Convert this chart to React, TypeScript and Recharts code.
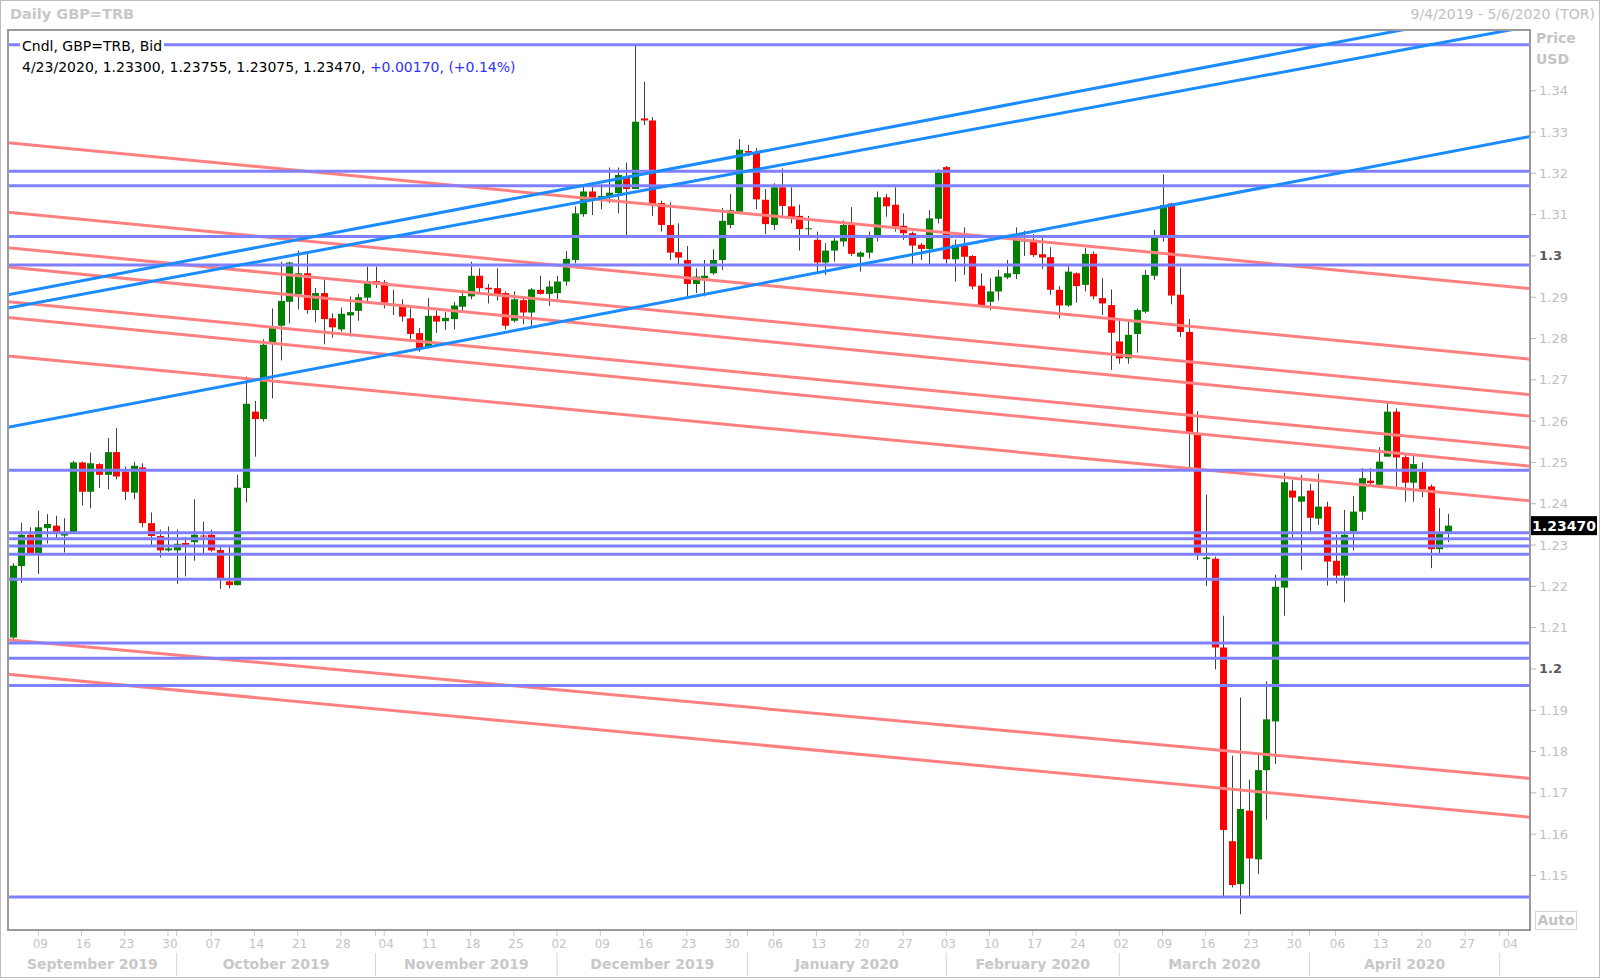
import React from 'react';
import { ComposedChart, Bar, XAxis, YAxis, ReferenceLine } from 'recharts';

const W = 1600;
const H = 978;
const FONT = '"DejaVu Sans", Verdana, sans-serif';

// trading days on the axis, 9/4/2019 .. 5/6/2020 (weekdays)
const days: Date[] = [];
for (let t = Date.UTC(2019, 8, 4); t <= Date.UTC(2020, 4, 6); t += 86400000) {
  const d = new Date(t);
  if (d.getUTCDay() % 6 !== 0) days.push(d);
}
const N = days.length;

const opens = [
  1.2076, 1.2249, 1.2325, 1.2280, 1.2341, 1.2347, 1.2323, 1.2330, 1.2500, 1.2429,
  1.2496, 1.2470, 1.2525, 1.2478, 1.2427, 1.2488, 1.2353, 1.2322, 1.2287, 1.2287,
  1.2305, 1.2307, 1.2323, 1.2325, 1.2288, 1.2212, 1.2203, 1.2438, 1.2623, 1.2605,
  1.2789, 1.2831, 1.2889, 1.2907, 1.2958, 1.2869, 1.2910, 1.2849, 1.2822, 1.2856,
  1.2867, 1.2899, 1.2939, 1.2936, 1.2880, 1.2877, 1.2849, 1.2813, 1.2782, 1.2855,
  1.2842, 1.2847, 1.2877, 1.2902, 1.2952, 1.2923, 1.2922, 1.2910, 1.2843, 1.2893,
  1.2863, 1.2918, 1.2908, 1.2910, 1.2938, 1.2990, 1.3101, 1.3156, 1.3140, 1.3144,
  1.3152, 1.3192, 1.3162, 1.3333, 1.3328, 1.3128, 1.3075, 1.3009, 1.2990, 1.2932,
  1.2946, 1.2958, 1.2990, 1.3075, 1.3107, 1.3254, 1.3250, 1.3136, 1.3075, 1.3166,
  1.3120, 1.3097, 1.3065, 1.3039, 1.2984, 1.3013, 1.3035, 1.3075, 1.2998, 1.3008,
  1.3045, 1.3142, 1.3124, 1.3073, 1.3055, 1.3027, 1.3017, 1.3090, 1.3215, 1.2992,
  1.3024, 1.3000, 1.2928, 1.2889, 1.2914, 1.2948, 1.2956, 1.3035, 1.3039, 1.3004,
  1.2997, 1.2918, 1.2880, 1.2958, 1.2930, 1.3005, 1.2898, 1.2881, 1.2793, 1.2752,
  1.2811, 1.2865, 1.2952, 1.3045, 1.3127, 1.2906, 1.2816, 1.2569, 1.2266, 1.2267,
  1.2052, 1.1583, 1.1479, 1.1657, 1.1539, 1.1755, 1.1873, 1.2197, 1.2432, 1.2405,
  1.2432, 1.2364, 1.2393, 1.2262, 1.2226, 1.2333, 1.2381, 1.2456, 1.2446, 1.2514,
  1.2623, 1.2513, 1.2451, 1.2478, 1.2442, 1.2290, 1.2330,
];
const highs = [
  1.2256, 1.2354, 1.2343, 1.2383, 1.2375, 1.2371, 1.2365, 1.2504, 1.2502, 1.2524,
  1.2498, 1.2559, 1.2583, 1.2490, 1.2502, 1.2498, 1.2379, 1.2337, 1.2345, 1.2338,
  1.2320, 1.2411, 1.2357, 1.2337, 1.2300, 1.2296, 1.2470, 1.2708, 1.2649, 1.2798,
  1.2873, 1.2986, 1.2986, 1.3013, 1.3005, 1.2922, 1.2948, 1.2861, 1.2875, 1.2902,
  1.2908, 1.2974, 1.2974, 1.2942, 1.2918, 1.2895, 1.2873, 1.2825, 1.2898, 1.2868,
  1.2865, 1.2889, 1.2918, 1.2986, 1.2970, 1.2932, 1.2970, 1.2914, 1.2914, 1.2903,
  1.2922, 1.2952, 1.2940, 1.2952, 1.3012, 1.3120, 1.3174, 1.3168, 1.3174, 1.3214,
  1.3214, 1.3226, 1.3509, 1.3422, 1.3336, 1.3134, 1.3130, 1.3079, 1.3024, 1.2970,
  1.2990, 1.3016, 1.3116, 1.3150, 1.3283, 1.3269, 1.3261, 1.3162, 1.3176, 1.3212,
  1.3166, 1.3124, 1.3097, 1.3059, 1.3031, 1.3049, 1.3086, 1.3118, 1.3011, 1.3059,
  1.3156, 1.3150, 1.3166, 1.3103, 1.3059, 1.3031, 1.3111, 1.3210, 1.3218, 1.3040,
  1.3069, 1.3002, 1.2958, 1.2946, 1.2966, 1.2990, 1.3069, 1.3061, 1.3053, 1.3048,
  1.3021, 1.2927, 1.2981, 1.2960, 1.3019, 1.3011, 1.2946, 1.2919, 1.2843, 1.2841,
  1.2873, 1.2966, 1.3063, 1.3197, 1.3129, 1.2972, 1.2847, 1.2624, 1.2422, 1.2272,
  1.2129, 1.1790, 1.1931, 1.1732, 1.1797, 1.1970, 1.2228, 1.2475, 1.2458, 1.2470,
  1.2448, 1.2473, 1.2405, 1.2325, 1.2385, 1.2419, 1.2486, 1.2486, 1.2537, 1.2643,
  1.2631, 1.2522, 1.2518, 1.2500, 1.2447, 1.2389, 1.23755,
];
const lows = [
  1.2062, 1.2208, 1.2276, 1.2230, 1.2304, 1.2316, 1.2282, 1.2328, 1.2396, 1.2389,
  1.2438, 1.2435, 1.2459, 1.2409, 1.2411, 1.2343, 1.2298, 1.2270, 1.2284, 1.2206,
  1.2224, 1.2262, 1.2278, 1.2284, 1.2194, 1.2195, 1.2202, 1.2403, 1.2514, 1.2599,
  1.2655, 1.2747, 1.2837, 1.2871, 1.2860, 1.2839, 1.2786, 1.2802, 1.2817, 1.2805,
  1.2843, 1.2889, 1.2922, 1.2873, 1.2857, 1.2841, 1.2798, 1.2768, 1.2781, 1.2814,
  1.2821, 1.2822, 1.2869, 1.2895, 1.2910, 1.2885, 1.2892, 1.2822, 1.2839, 1.2835,
  1.2831, 1.2906, 1.2879, 1.2895, 1.2928, 1.2982, 1.3095, 1.3099, 1.3113, 1.3128,
  1.3103, 1.3049, 1.3162, 1.3317, 1.3097, 1.3059, 1.2990, 1.2978, 1.2903, 1.2910,
  1.2902, 1.2954, 1.2966, 1.3067, 1.3103, 1.3242, 1.3113, 1.3053, 1.3063, 1.3097,
  1.3079, 1.3013, 1.3047, 1.2960, 1.2954, 1.2986, 1.3023, 1.3000, 1.2962, 1.2994,
  1.3035, 1.3095, 1.3059, 1.3039, 1.2978, 1.2990, 1.2978, 1.3079, 1.2982, 1.2938,
  1.2954, 1.2919, 1.2877, 1.2869, 1.2892, 1.2944, 1.2944, 1.3000, 1.2997, 1.2968,
  1.2906, 1.2849, 1.2877, 1.2887, 1.2914, 1.2895, 1.2857, 1.2724, 1.2739, 1.2739,
  1.2766, 1.2861, 1.2942, 1.3035, 1.2883, 1.2804, 1.2487, 1.2264, 1.2201, 1.1999,
  1.1450, 1.1471, 1.1406, 1.1450, 1.1504, 1.1635, 1.1770, 1.2129, 1.2318, 1.2240,
  1.2329, 1.2349, 1.2202, 1.2207, 1.2161, 1.2287, 1.2361, 1.2446, 1.2443, 1.2514,
  1.2440, 1.2405, 1.2405, 1.2416, 1.2244, 1.2278, 1.23075,
];
const closes = [
  1.2250, 1.2325, 1.2279, 1.2343, 1.2351, 1.2330, 1.2327, 1.2500, 1.2429, 1.2498,
  1.2470, 1.2525, 1.2466, 1.2429, 1.2492, 1.2353, 1.2322, 1.2287, 1.2292, 1.2303,
  1.2300, 1.2325, 1.2321, 1.2287, 1.2217, 1.2203, 1.2439, 1.2642, 1.2605, 1.2785,
  1.2826, 1.2891, 1.2984, 1.2958, 1.2869, 1.2910, 1.2847, 1.2827, 1.2860, 1.2864,
  1.2900, 1.2939, 1.2931, 1.2887, 1.2884, 1.2853, 1.2811, 1.2776, 1.2855, 1.2841,
  1.2850, 1.2880, 1.2903, 1.2952, 1.2922, 1.2919, 1.2906, 1.2831, 1.2895, 1.2863,
  1.2919, 1.2908, 1.2926, 1.2938, 1.2993, 1.3103, 1.3156, 1.3141, 1.3145, 1.3153,
  1.3196, 1.3162, 1.3325, 1.3328, 1.3126, 1.3075, 1.3008, 1.2996, 1.2932, 1.2950,
  1.2952, 1.2990, 1.3085, 1.3111, 1.3257, 1.3250, 1.3137, 1.3077, 1.3166, 1.3121,
  1.3091, 1.3065, 1.3067, 1.2984, 1.3013, 1.3037, 1.3075, 1.3005, 1.3008, 1.3049,
  1.3142, 1.3120, 1.3071, 1.3055, 1.3025, 1.3017, 1.3091, 1.3202, 1.2992, 1.3027,
  1.2998, 1.2926, 1.2881, 1.2914, 1.2950, 1.2958, 1.3039, 1.3040, 1.3002, 1.2996,
  1.2918, 1.2880, 1.2962, 1.2927, 1.3005, 1.2902, 1.2885, 1.2814, 1.2752, 1.2809,
  1.2869, 1.2954, 1.3049, 1.3123, 1.2904, 1.2816, 1.2569, 1.2279, 1.2270, 1.2052,
  1.1610, 1.1477, 1.1661, 1.1541, 1.1755, 1.1878, 1.2199, 1.2452, 1.2415, 1.2418,
  1.2366, 1.2393, 1.2260, 1.2226, 1.2325, 1.2381, 1.2462, 1.2450, 1.2502, 1.2623,
  1.2512, 1.2451, 1.2496, 1.2435, 1.2290, 1.2330, 1.2347,
];

// drawn studies: horizontal levels, rising and falling lines (price at left / right edge)
const levels = [1.3511, 1.3205, 1.3170, 1.3047, 1.2978, 1.2481, 1.2330, 1.2315, 1.2298, 1.2278, 1.2217, 1.2063, 1.2026, 1.1960, 1.1448];
const risingLines = [[1.2906, 1.3606], [1.2874, 1.3556], [1.2585, 1.3289]];
const fallingLines = [
  [1.3274, 1.2921], [1.3106, 1.2750], [1.3020, 1.2664], [1.2973, 1.2612], [1.2889, 1.2535],
  [1.2851, 1.2491], [1.2758, 1.2407], [1.2071, 1.1735], [1.1987, 1.1641],
];

const priceTicks = [1.15, 1.16, 1.17, 1.18, 1.19, 1.2, 1.21, 1.22, 1.23, 1.24, 1.25, 1.26, 1.27, 1.28, 1.29, 1.3, 1.31, 1.32, 1.33, 1.34];
const monthLabels = ['September 2019', 'October 2019', 'November 2019', 'December 2019', 'January 2020', 'February 2020', 'March 2020', 'April 2020'];

const Y_MIN = 1.1368;
const Y_MAX = 1.3547;

const mdY = (d: Date) => `${d.getUTCMonth() + 1}/${d.getUTCDate()}/${d.getUTCFullYear()}`;

const rows = days.map((d, i) => ({
  i,
  date: mdY(d),
  o: opens[i] ?? null,
  h: highs[i] ?? null,
  l: lows[i] ?? null,
  c: closes[i] ?? null,
}));

const dayTicks = days.map((d, i) => (d.getUTCDay() === 1 ? i : -1)).filter((i) => i >= 0);
const monthStarts = days.map((d, i) => (i > 0 && d.getUTCMonth() !== days[i - 1].getUTCMonth() ? i : -1)).filter((i) => i >= 0);
const edges = [-0.5, ...monthStarts];
const monthMids = monthLabels.map((_, k) => (edges[k] + edges[k + 1]) / 2);
const axisTicks = Array.from(new Set([...dayTicks, ...monthStarts, ...monthMids])).sort((a, b) => a - b);

const last = closes.length - 1;
const chg = closes[last] - closes[last - 1];
const headText = `${mdY(days[last])}, ${opens[last].toFixed(5)}, ${highs[last].toFixed(5)}, ${lows[last].toFixed(5)}, ${closes[last].toFixed(5)}, `;
const chgText = `+${chg.toFixed(5)}, (+${((chg / closes[last - 1]) * 100).toFixed(2)}%)`;

const PLOT_BOTTOM = 930;

function Candle(props: any) {
  const { x, y, width, height, payload } = props;
  if (!payload || payload.o == null || !isFinite(y) || !isFinite(height)) return <g />;
  const { o, h, l, c } = payload;
  const yTop = Math.min(y, y + height);
  const span = Math.abs(height);
  const k = span / (h - l);
  const top = yTop + (h - Math.max(o, c)) * k;
  const bot = yTop + (h - Math.min(o, c)) * k;
  const cx = Math.round(x + width / 2) + 0.5;
  return (
    <g>
      <line x1={cx} x2={cx} y1={yTop} y2={yTop + span} stroke="#404040" strokeWidth={1} />
      <rect x={cx - 3.5} y={top} width={7} height={Math.max(1, bot - top)} fill={c >= o ? '#008000' : '#ff0000'} />
    </g>
  );
}

// one bottom axis: week row (day numbers) and month row (names + dividers)
function DateTick({ x, payload }: any) {
  const v = payload.value;
  const y = PLOT_BOTTOM;
  const parts: React.ReactNode[] = [];
  if (dayTicks.includes(v) || monthStarts.includes(v)) {
    parts.push(<line key="t" x1={x} x2={x} y1={y + 1} y2={y + 6} stroke="#c8c8c8" />);
  }
  if (dayTicks.includes(v)) {
    parts.push(
      <text key="d" x={x + 2} y={y + 18} textAnchor="middle" fontFamily={FONT} fontSize={12} fill="#c4c4c4">
        {String(days[v].getUTCDate()).padStart(2, '0')}
      </text>
    );
  }
  if (monthStarts.includes(v)) {
    parts.push(<line key="s" x1={x} x2={x} y1={y + 23} y2={y + 46} stroke="#d6d6d6" />);
  }
  const j = monthMids.indexOf(v);
  if (j >= 0) {
    parts.push(
      <text key="m" x={x} y={y + 39} textAnchor="middle" fontFamily={FONT} fontSize={14} fontWeight={700} fill="#c8c8c8">
        {monthLabels[j]}
      </text>
    );
  }
  return <g>{parts}</g>;
}

function PriceTick({ x, y, payload }: any) {
  const v = payload.value;
  const major = Math.abs(v * 10 - Math.round(v * 10)) < 1e-6;
  return (
    <text x={x} y={y} dy={4.5} textAnchor="start" fontFamily={FONT} fontSize={13} fontWeight={major ? 700 : 400} fill={major ? '#5a5a5a' : '#c0c0c0'}>
      {major ? v.toFixed(1) : v.toFixed(2)}
    </text>
  );
}

function PriceTag({ viewBox, text }: any) {
  if (!viewBox) return null;
  const x = viewBox.x + viewBox.width + 1;
  const y = viewBox.y;
  return (
    <g>
      <rect x={x} y={y - 9.5} width={66} height={19} fill="#000" />
      <text x={x + 33} y={y + 5} textAnchor="middle" fontFamily={FONT} fontSize={14} fontWeight={700} fill="#fff">{text}</text>
    </g>
  );
}

const gray = '#c4c4c4';

export default function App() {
  return (
    <div style={{ position: 'absolute', left: 0, top: 0, width: W, height: H, background: '#fff', fontFamily: FONT }}>
      <ComposedChart width={W} height={H} data={rows} margin={{ top: 30, right: 4, bottom: 2, left: 8 }}>
        <XAxis xAxisId="n" dataKey="i" type="number" domain={[-0.5, N - 0.5]} allowDataOverflow ticks={axisTicks} interval={0}
          height={46} tickSize={0} tickMargin={0} axisLine={false} tickLine={false} tick={<DateTick />} />
        <XAxis xAxisId="c" dataKey="date" type="category" hide height={0} />
        <YAxis orientation="right" domain={[Y_MIN, Y_MAX]} allowDataOverflow ticks={priceTicks} interval={0} width={66}
          tickSize={6} tickMargin={3} axisLine={false} tickLine={{ stroke: '#b8b8b8' }} tick={<PriceTick />} />
        <Bar xAxisId="c" dataKey={(r: any) => (r.h == null ? null : [r.l, r.h])} barSize={7} shape={<Candle />} isAnimationActive={false} />
        {fallingLines.map(([a, b], k) => (
          <ReferenceLine key={'f' + k} xAxisId="n" segment={[{ x: -0.5, y: a }, { x: N - 0.5, y: b }]} ifOverflow="hidden" stroke="#ff8080" strokeWidth={3} />
        ))}
        {levels.map((v, k) => (
          <ReferenceLine key={'h' + k} xAxisId="n" y={v} stroke="#8080ff" strokeWidth={3} />
        ))}
        {risingLines.map(([a, b], k) => (
          <ReferenceLine key={'r' + k} xAxisId="n" segment={[{ x: -0.5, y: a }, { x: N - 0.5, y: b }]} ifOverflow="hidden" stroke="#1a8cff" strokeWidth={3} />
        ))}
        <ReferenceLine xAxisId="n" y={closes[last]} stroke="none" label={<PriceTag text={closes[last].toFixed(5)} />} />
      </ComposedChart>

      <div style={{ position: 'absolute', left: 0, top: 0, width: W, height: H, boxSizing: 'border-box', border: '1px solid #bdbdbd', pointerEvents: 'none' }} />
      <div style={{ position: 'absolute', left: 7, top: 29, width: 1524, height: 902, boxSizing: 'border-box', border: '2px solid #9a9a9a', pointerEvents: 'none' }} />

      <div style={{ position: 'absolute', left: 10, top: 5, fontSize: 14.5, lineHeight: '18px', fontWeight: 700, color: '#c8c8c8' }}>Daily GBP=TRB</div>
      <div style={{ position: 'absolute', right: 5, top: 5, fontSize: 14, lineHeight: '18px', color: '#c0c0c0' }}>9/4/2019 - 5/6/2020 (TOR)</div>

      <div style={{ position: 'absolute', left: 20, top: 37, fontSize: 14, lineHeight: '18px', color: '#000', background: '#fff', padding: '0 2px' }}>Cndl, GBP=TRB, Bid</div>
      <div style={{ position: 'absolute', left: 22, top: 58, fontSize: 14, lineHeight: '18px', color: '#000', whiteSpace: 'nowrap' }}>
        {headText}<span style={{ color: '#3030ff' }}>{chgText}</span>
      </div>

      <div style={{ position: 'absolute', left: 1536, top: 29, fontSize: 14, lineHeight: '18px', fontWeight: 700, color: gray }}>Price</div>
      <div style={{ position: 'absolute', left: 1536, top: 50, fontSize: 14, lineHeight: '18px', fontWeight: 700, color: gray }}>USD</div>
      <div style={{ position: 'absolute', left: 1535, top: 911, width: 42, height: 19, boxSizing: 'border-box', border: '1px solid #d4d4d4', fontSize: 14, lineHeight: '17px', fontWeight: 700, color: gray, textAlign: 'center' }}>Auto</div>
    </div>
  );
}
